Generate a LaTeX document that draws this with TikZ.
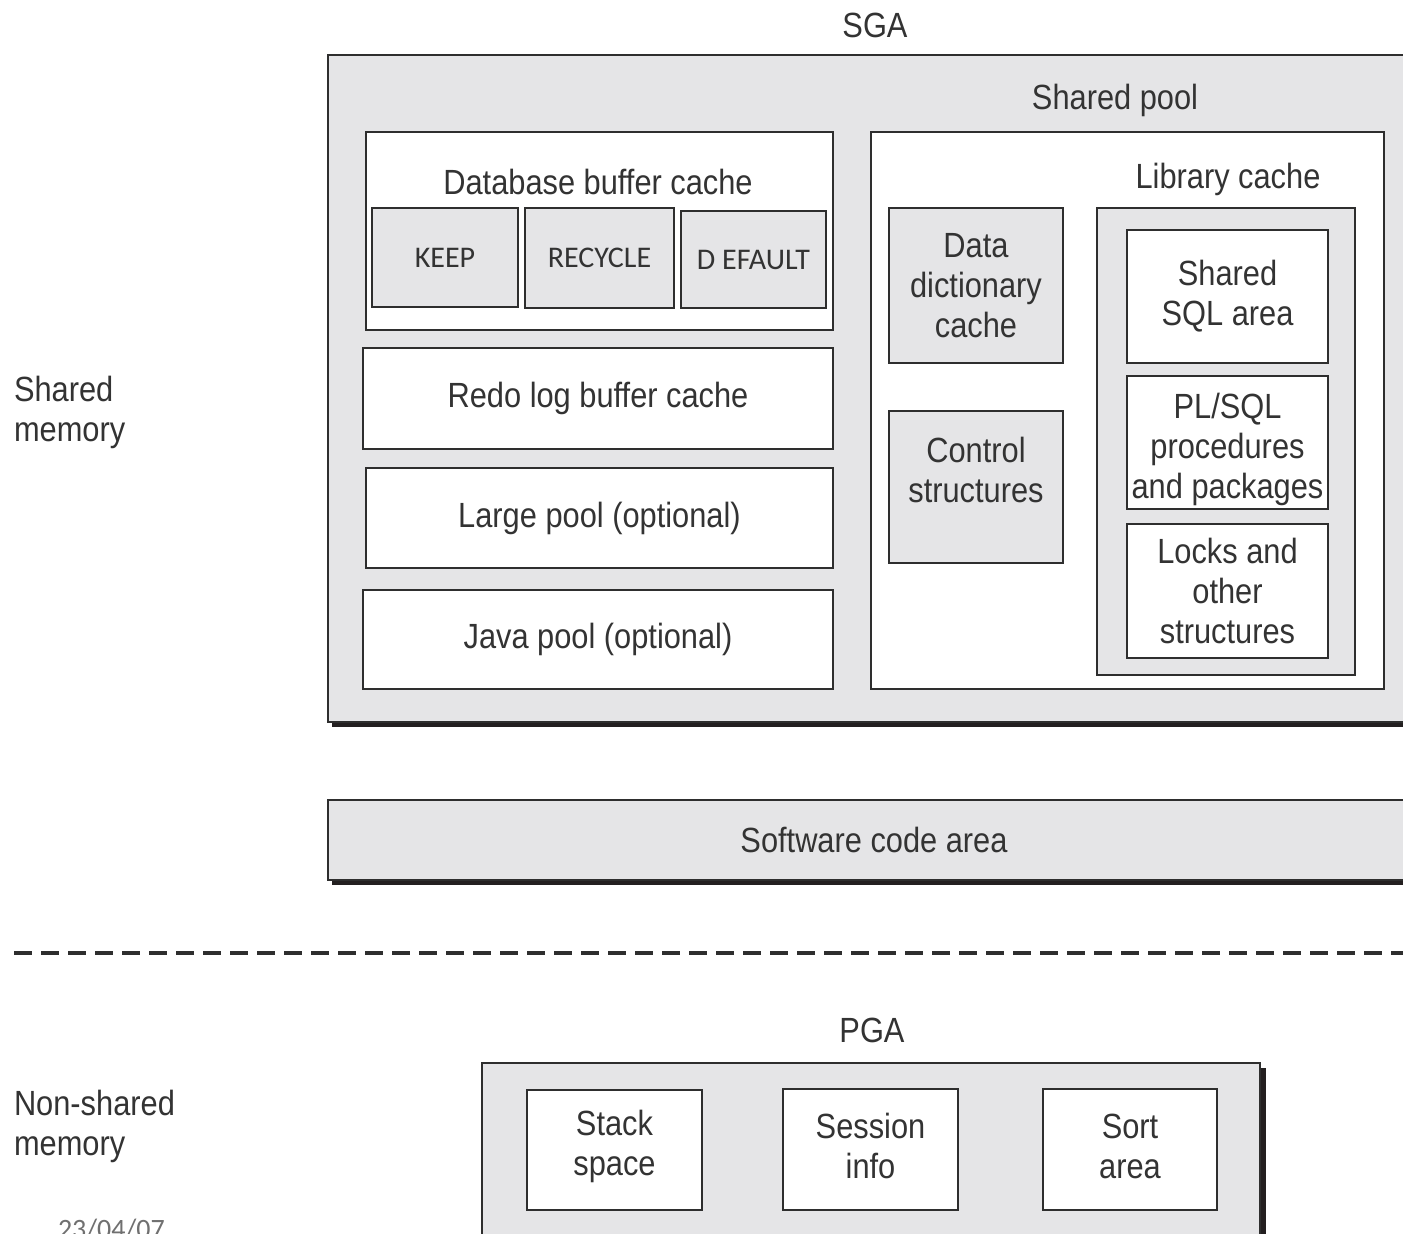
\documentclass[tikz,border=0pt]{standalone}
\usepackage{fontspec}
\setmainfont{Liberation Sans}[FakeStretch=0.88]
\newfontfamily\keepfont{Carlito}
\usetikzlibrary{shadows}
\definecolor{bgc}{HTML}{E5E5E7}
\definecolor{linec}{HTML}{2E2E2E}
\definecolor{txtc}{HTML}{333333}
\definecolor{shadc}{HTML}{231F20}
\definecolor{datec}{HTML}{707070}
\begin{document}
\begin{tikzpicture}[x=1pt,y=-1pt,
  every node/.style={inner sep=0pt, outer sep=0pt, text=txtc, align=center, font=\fontsize{35}{40}\selectfont},
  box/.style={draw=linec, line width=2pt},
  wbox/.style={box, fill=white},
  gbox/.style={box, fill=bgc},
  bufbox/.style={gbox, font=\keepfont\fontsize{30}{34}\selectfont},
  bigshadow/.style={general shadow={fill=shadc, shadow xshift=4pt, shadow yshift=-5pt}},
  sideshadow/.style={general shadow={fill=shadc, shadow xshift=6pt, shadow yshift=-5pt}},
  sidelbl/.style={anchor=west, align=left}
]
\useasboundingbox (0,0) rectangle (1403,1234);
\clip (0,0) rectangle (1403,1234);
\fill[white] (0,0) rectangle (1403,1234);

% SGA
\node (sgalbl) at (875,25) {SGA};
\node[gbox, bigshadow, minimum width=1092pt, minimum height=667pt] (sga) at (874,388.5) {};
\node (splbl) at (1115,100) {Shared pool};

% Left column
\node[wbox, minimum width=467pt, minimum height=198pt] (dbc) at (599.5,231) {};
\node (dbclbl) at (598,182) {Database buffer cache};
\node[bufbox, minimum width=146pt, minimum height=99pt] (keep) at (445,257.5) {KEEP};
\node[bufbox, minimum width=149pt, minimum height=100pt] (recycle) at (599.5,258) {RECYCLE};
\node[bufbox, minimum width=145pt, minimum height=97pt] (default) at (753.5,259.5) {D EFAULT};
\node[wbox, minimum width=470pt, minimum height=101pt] (redo) at (598,398.5) {Redo log buffer cache};
\node[wbox, minimum width=467pt, minimum height=100pt] (large) at (599.5,518) {Large pool (optional)};
\node[wbox, minimum width=470pt, minimum height=99pt] (java) at (598,639.5) {Java pool (optional)};

% Shared pool
\node[wbox, minimum width=513pt, minimum height=557pt] (sp) at (1127.5,410.5) {};
\node[gbox, minimum width=174pt, minimum height=155pt] (ddc) at (976,285.5) {Data\\dictionary\\cache};
\node[gbox, minimum width=174pt, minimum height=152pt] (ctrl) at (976,487) {};
\node (ctrllbl) at (976,470) {Control\\structures};
\node (lclbl) at (1228,179) {Library cache};
\node[gbox, minimum width=258pt, minimum height=467pt] (lc) at (1226,441.5) {};
\node[wbox, minimum width=201pt, minimum height=133pt] (ssql) at (1227.5,296.5) {Shared\\SQL area};
\node[wbox, minimum width=201pt, minimum height=133pt] (plsql) at (1227.5,442.5) {};
\node (plsqllbl) at (1227.5,449) {PL/SQL\\procedures\\and packages};
\node[wbox, minimum width=201pt, minimum height=134pt] (locks) at (1227.5,591) {Locks and\\other\\structures};

% Software code area
\node[gbox, bigshadow, minimum width=1092pt, minimum height=80pt] (sca) at (874,840) {Software code area};

% Divider
\coordinate (dl) at (14,953);
\coordinate (dr) at (1410,953);
\draw[linec, line width=4pt, dash pattern=on 18pt off 9pt] (dl) -- (dr);

% Side labels
\node[sidelbl] (shm) at (14,412) {Shared\\memory};
\node[sidelbl] (nshm) at (14,1126) {Non-shared\\memory};

% PGA
\node (pgalbl) at (872,1030) {PGA};
\node[gbox, sideshadow, minimum width=778pt, minimum height=187pt] (pga) at (871,1156.5) {};
\node[wbox, minimum width=175pt, minimum height=120pt] (stack) at (614.5,1150) {};
\node (stacklbl) at (614.5,1146) {Stack\\space};
\node[wbox, minimum width=175pt, minimum height=121pt] (sess) at (870.5,1149.5) {};
\node (sesslbl) at (870.5,1146) {Session\\info};
\node[wbox, minimum width=174pt, minimum height=121pt] (sort) at (1130,1149.5) {};
\node (sortlbl) at (1130,1146) {Sort\\area};

% date
\node[anchor=base west, text=datec, font=\keepfont\fontsize{28}{32}\selectfont] (date) at (58,1238) {23/04/07};
\end{tikzpicture}
\end{document}
